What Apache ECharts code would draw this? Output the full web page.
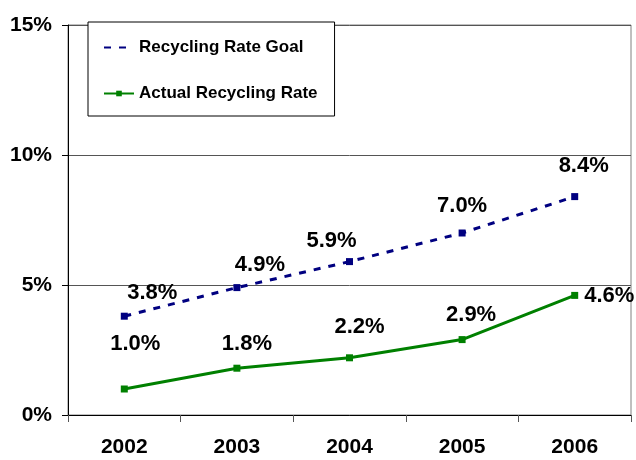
<!DOCTYPE html>
<html style="height: 100%">
   <head>
       <meta charset="utf-8">
   </head>
   <body style="height: 100%; margin: 0; background: #fff">
       <div id="container" style="width: 636px; height: 460px"></div>
       <script type="text/javascript" src="https://cdn.jsdelivr.net/npm/echarts/dist/echarts.min.js"></script>
       <script type="text/javascript">
var years = ['2002', '2003', '2004', '2005', '2006'];
var goalRate = [3.8, 4.9, 5.9, 7.0, 8.4];
var actualRate = [1.0, 1.8, 2.2, 2.9, 4.6];

// label nudges
var goalOffsets = [[28, -4], [23, -3], [-18, -1], [0, -8], [9, -11]];
var actualOffsets = [[11, -26], [10, -5], [10, -11], [9, -5], [0, 1]];

var font = 'Liberation Sans, Arial, sans-serif';
var labelStyle = {
    show: true,
    position: 'top',
    distance: 5,
    formatter: function (p) { return p.value.toFixed(1) + '%'; },
    fontFamily: font,
    fontWeight: 'bold',
    fontSize: 22,
    color: '#000'
};

function buildData(values, offsets, lastRight) {
    return values.map(function (v, i) {
        var item = { value: v, label: { offset: offsets[i] } };
        if (lastRight && i === values.length - 1) {
            item.label.position = 'right';
            item.label.distance = 6;
        }
        return item;
    });
}

var dom = document.getElementById('container');
var myChart = echarts.init(dom);

var option = {
    backgroundColor: '#fff',
    animation: false,
    grid: {
        left: 68,
        right: 5,
        top: 25,
        bottom: 45,
        show: true,
        borderColor: '#808080',
        borderWidth: 1
    },
    legend: {
        orient: 'vertical',
        left: 88,
        top: 22,
        padding: [17, 17, 14, 15],
        itemGap: 29,
        itemWidth: 30,
        itemHeight: 7,
        borderColor: '#000',
        borderWidth: 1,
        backgroundColor: '#fff',
        textStyle: {
            fontFamily: font,
            fontWeight: 'bold',
            fontSize: 17,
            color: '#000'
        },
        data: [
            { name: 'Recycling Rate Goal', itemStyle: { opacity: 0 } },
            { name: 'Actual Recycling Rate' }
        ]
    },
    xAxis: {
        type: 'category',
        data: years,
        boundaryGap: true,
        axisLine: { lineStyle: { color: '#000', width: 1 } },
        axisTick: { show: true, length: 7, lineStyle: { color: '#555' } },
        axisLabel: {
            margin: 22,
            fontFamily: font,
            fontWeight: 'bold',
            fontSize: 21,
            color: '#000'
        },
        splitLine: { show: false }
    },
    yAxis: {
        type: 'value',
        min: 0,
        max: 15,
        interval: 5,
        axisLine: { show: true, lineStyle: { color: '#000', width: 1 } },
        axisTick: { show: true, length: 6, lineStyle: { color: '#000' } },
        axisLabel: {
            margin: 16,
            formatter: '{value}%',
            fontFamily: font,
            fontWeight: 'bold',
            fontSize: 21,
            color: '#000'
        },
        splitLine: { show: true, lineStyle: { color: '#555', width: 1 } }
    },
    series: [
        {
            name: 'Recycling Rate Goal',
            type: 'line',
            symbol: 'rect',
            symbolSize: 7,
            itemStyle: { color: '#000080' },
            lineStyle: { color: '#000080', width: 3, type: [7, 8] },
            label: labelStyle,
            data: buildData(goalRate, goalOffsets, false)
        },
        {
            name: 'Actual Recycling Rate',
            type: 'line',
            symbol: 'rect',
            symbolSize: 7,
            itemStyle: { color: '#008000' },
            lineStyle: { color: '#008000', width: 3 },
            label: labelStyle,
            data: buildData(actualRate, actualOffsets, true)
        }
    ]
};

myChart.setOption(option);
       </script>
   </body>
</html>
